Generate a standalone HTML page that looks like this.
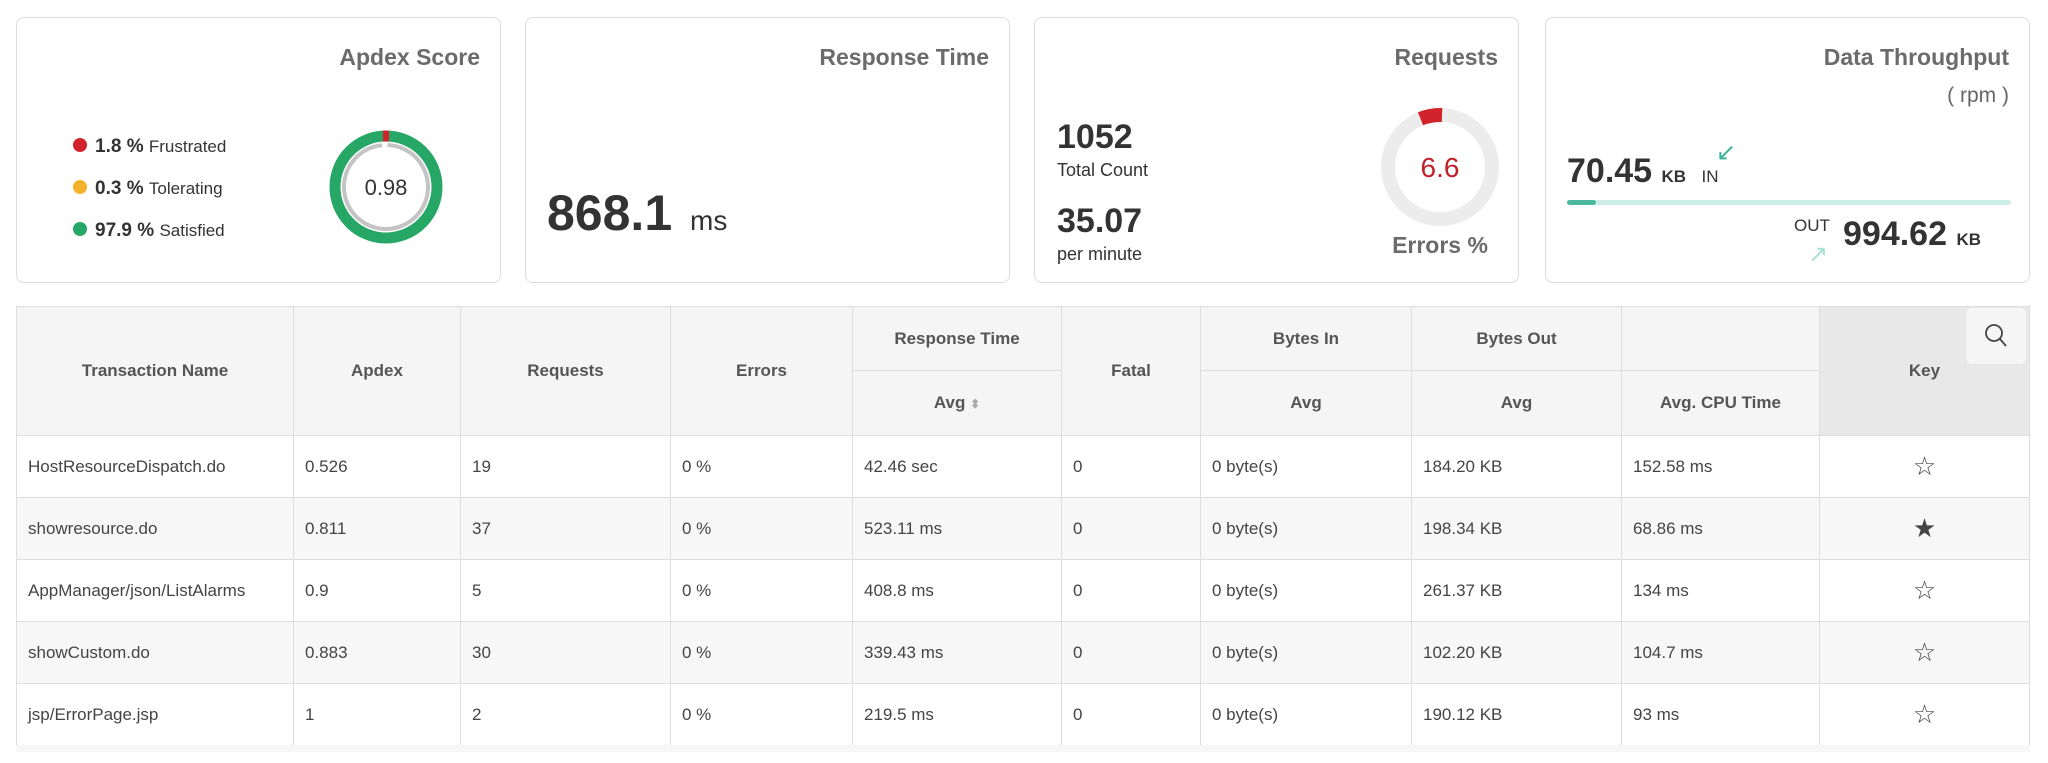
<!DOCTYPE html>
<html><head><meta charset="utf-8"><style>
*{margin:0;padding:0;box-sizing:border-box}
body{width:2048px;height:763px;background:#fff;font-family:"Liberation Sans",sans-serif;color:#333;position:relative;overflow:hidden}
.card{position:absolute;top:17px;height:266px;width:485px;border:1.5px solid #dcdcdc;border-radius:8px;background:#fff}
.t{position:absolute;white-space:nowrap}
.ttl{font-size:23px;font-weight:bold;color:#6b6b6b;right:20px;top:26px}
.wrap{position:absolute;left:16px;top:306px;width:2014px;height:446px;overflow:hidden}
table{border-collapse:collapse;font-size:17px;color:#444}
td,th{border:1px solid #dedede;white-space:nowrap}
th{background:#f5f5f5;color:#555;font-size:17px;font-weight:bold;text-align:center}
td{height:62px;padding-left:11px}
tr.g td{background:#f7f7f7}
.k{text-align:center;padding:0;font-size:26px}
</style></head><body>

<div class="card" style="left:16px">
 <div class="t ttl">Apdex Score</div>
 <div class="t" style="left:56px;top:108px;font-size:19px;line-height:42px">
  <div><span style="display:inline-block;width:14px;height:14px;border-radius:50%;background:#d0232b;margin-right:8px"></span><b>1.8 %</b> <span style="font-size:17px">Frustrated</span></div>
  <div><span style="display:inline-block;width:14px;height:14px;border-radius:50%;background:#f5b12a;margin-right:8px"></span><b>0.3 %</b> <span style="font-size:17px">Tolerating</span></div>
  <div><span style="display:inline-block;width:14px;height:14px;border-radius:50%;background:#27a766;margin-right:8px"></span><b>97.9 %</b> <span style="font-size:17px">Satisfied</span></div>
 </div>
 <svg class="t" style="left:309px;top:109px" width="120" height="120" viewBox="0 0 120 120">
  <circle cx="60" cy="60" r="51" fill="none" stroke="#27a766" stroke-width="11"/>
  <path d="M57 9 L63 9" stroke="#d0232b" stroke-width="11"/>
  <circle cx="60" cy="60" r="42" fill="none" stroke="#c4c4c4" stroke-width="4" stroke-dasharray="258 6" transform="rotate(-88 60 60)"/>
  <text x="60" y="68" text-anchor="middle" font-size="22" font-family="Liberation Sans" fill="#333">0.98</text>
 </svg>
</div>

<div class="card" style="left:525px">
 <div class="t ttl">Response Time</div>
 <div class="t" style="left:21px;top:166px;font-size:50px;font-weight:bold;color:#333">868.1 <span style="font-size:28px;font-weight:normal;margin-left:4px">ms</span></div>
</div>

<div class="card" style="left:1034px">
 <div class="t ttl">Requests</div>
 <div class="t" style="left:22px;top:100px;font-size:34px;font-weight:bold">1052</div>
 <div class="t" style="left:22px;top:142px;font-size:18px">Total Count</div>
 <div class="t" style="left:22px;top:184px;font-size:34px;font-weight:bold">35.07</div>
 <div class="t" style="left:22px;top:226px;font-size:18px">per minute</div>
 <svg class="t" style="left:343px;top:87px" width="124" height="124" viewBox="0 0 124 124">
  <circle cx="62" cy="62" r="52" fill="none" stroke="#ececec" stroke-width="14"/>
  <circle cx="62" cy="62" r="52" fill="none" stroke="#d0232b" stroke-width="14" stroke-dasharray="22 400" transform="rotate(-112 62 62)"/>
  <text x="62" y="72" text-anchor="middle" font-size="28" font-family="Liberation Sans" fill="#c0202a">6.6</text>
 </svg>
 <div class="t" style="left:350px;top:214px;width:110px;text-align:center;font-size:23px;font-weight:bold;color:#6b6b6b">Errors %</div>
</div>

<div class="card" style="left:1545px">
 <div class="t ttl">Data Throughput</div>
 <div class="t" style="right:20px;top:66px;font-size:21px;color:#666">( rpm )</div>
 <div class="t" style="left:21px;top:134px;font-size:34px;font-weight:bold">70.45 <span style="font-size:17px">KB</span> <span style="font-size:17px;font-weight:normal;margin-left:6px">IN</span></div>
 <div class="t" style="left:170px;top:120px;font-size:24px;color:#3bb39a">↙</div>
 <div class="t" style="left:21px;top:182px;width:444px;height:5px;background:#cdeee6;border-radius:3px"><div style="width:29px;height:5px;background:#4db8a0;border-radius:3px"></div></div>
 <div class="t" style="left:248px;top:198px;font-size:17px">OUT</div>
 <div class="t" style="left:297px;top:197px;font-size:34px;font-weight:bold">994.62 <span style="font-size:17px">KB</span></div>
 <div class="t" style="left:262px;top:222px;font-size:24px;color:#a6e0d2">↗</div>
</div>

<div class="wrap">
<table>
<tr style="height:64px">
 <th rowspan="2" style="width:277px">Transaction Name</th>
 <th rowspan="2" style="width:167px">Apdex</th>
 <th rowspan="2" style="width:210px">Requests</th>
 <th rowspan="2" style="width:182px">Errors</th>
 <th style="width:209px">Response Time</th>
 <th rowspan="2" style="width:139px">Fatal</th>
 <th style="width:211px">Bytes In</th>
 <th style="width:210px">Bytes Out</th>
 <th style="width:198px"></th>
 <th rowspan="2" style="width:210px;background:#e8e8e8;position:relative">Key<span style="position:absolute;right:3px;top:1px;width:60px;height:56px;background:#f5f5f5;border-radius:6px"><svg width="60" height="56" viewBox="0 0 60 56"><circle cx="28" cy="25" r="8" fill="none" stroke="#444" stroke-width="1.8"/><line x1="34" y1="31" x2="40" y2="38" stroke="#444" stroke-width="1.8"/></svg></span></th>
</tr>
<tr style="height:65px">
 <th>Avg <span style="color:#aaa;font-size:12px">&#11021;</span></th><th>Avg</th><th>Avg</th><th>Avg. CPU Time</th>
</tr>
<tr><td>HostResourceDispatch.do</td><td>0.526</td><td>19</td><td>0 %</td><td>42.46 sec</td><td>0</td><td>0 byte(s)</td><td>184.20 KB</td><td>152.58 ms</td><td class="k">☆</td></tr>
<tr class="g"><td>showresource.do</td><td>0.811</td><td>37</td><td>0 %</td><td>523.11 ms</td><td>0</td><td>0 byte(s)</td><td>198.34 KB</td><td>68.86 ms</td><td class="k">★</td></tr>
<tr><td>AppManager/json/ListAlarms</td><td>0.9</td><td>5</td><td>0 %</td><td>408.8 ms</td><td>0</td><td>0 byte(s)</td><td>261.37 KB</td><td>134 ms</td><td class="k">☆</td></tr>
<tr class="g"><td>showCustom.do</td><td>0.883</td><td>30</td><td>0 %</td><td>339.43 ms</td><td>0</td><td>0 byte(s)</td><td>102.20 KB</td><td>104.7 ms</td><td class="k">☆</td></tr>
<tr><td>jsp/ErrorPage.jsp</td><td>1</td><td>2</td><td>0 %</td><td>219.5 ms</td><td>0</td><td>0 byte(s)</td><td>190.12 KB</td><td>93 ms</td><td class="k">☆</td></tr>
</table>
</div>
<div class="t" style="left:16px;top:745px;width:2014px;height:7px;background:#f7f7f7"></div>
</body></html>
